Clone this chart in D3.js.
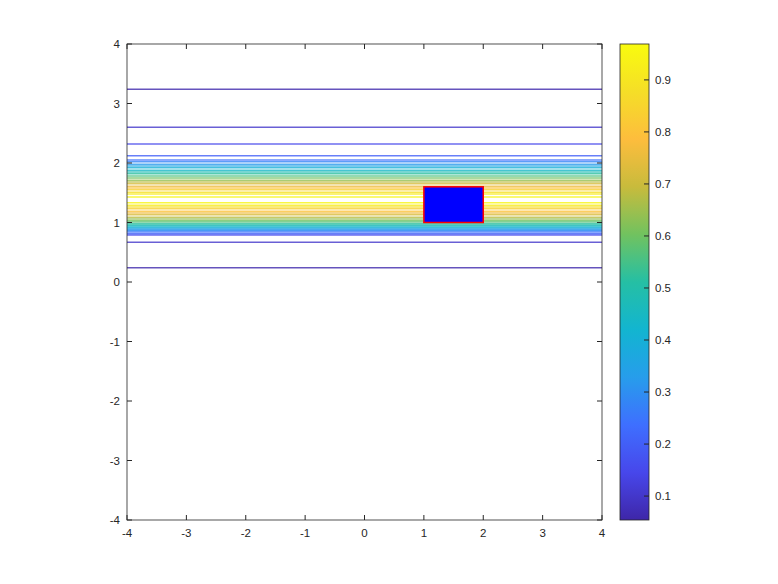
<!DOCTYPE html>
<html><head><meta charset="utf-8">
<script src="https://cdn.jsdelivr.net/npm/d3@7"></script>
<style>body{margin:0;background:#fff}svg{display:block}text{font-family:"Liberation Sans",Arial,sans-serif;font-size:11.5px;fill:#262626}</style>
</head><body>
<script>
// ---- data ----
const xTicks = [-4,-3,-2,-1,0,1,2,3,4];
const yTicks = [-4,-3,-2,-1,0,1,2,3,4];
const cbTicks = [0.1,0.2,0.3,0.4,0.5,0.6,0.7,0.8,0.9];
const colorRange = [0.054, 0.969];
const upperLevels = [0.06,0.1,0.15,0.2,0.24,0.28,0.32,0.36,0.40,0.44,0.48,0.52,0.56,0.60,0.64,0.68,0.72,0.76,0.80,0.84,0.88,0.92,0.95];
const upperY      = [3.24,2.60,2.32,2.12,2.05,2.02,1.98,1.95,1.92,1.88,1.85,1.82,1.78,1.75,1.71,1.68,1.65,1.61,1.58,1.55,1.51,1.48,1.43];
const lowerLevels = [0.06,0.1,0.15,0.2,0.24,0.28,0.32,0.36,0.40,0.44,0.48,0.52,0.56,0.60,0.64,0.68,0.72,0.76,0.80,0.84,0.88,0.92,0.95];
const lowerY      = [0.24,0.67,0.79,0.81,0.84,0.86,0.88,0.90,0.92,0.94,0.96,0.98,1.01,1.03,1.06,1.09,1.13,1.16,1.19,1.23,1.26,1.29,1.33];
const rectX = [1, 2];
const rectY = [1, 1.6];
// parula colormap stops (0, 0.1, ..., 1)
const parula = ["#3e26a8","#4747eb","#3e6fff","#279deb","#12b5d0","#25bfa4","#71c25f","#c8bb3c","#fdbd3d","#f5de27","#f9fb0e"];

// ---- drawing ----
const W = 778, H = 584;
const m = {l:127, r:602, t:44, b:520};
const svg = d3.select("body").append("svg").attr("width", W).attr("height", H);
const x = d3.scaleLinear().domain([-4,4]).range([m.l, m.r]);
const y = d3.scaleLinear().domain([-4,4]).range([m.b, m.t]);
const interp = d3.piecewise(d3.interpolateRgb, parula);
const cnorm = d3.scaleLinear().domain(colorRange).range([0,1]).clamp(true);
const color = v => interp(cnorm(v));

const lines = [];
upperLevels.forEach((lv,i)=>lines.push({lv, yv: upperY[i]}));
lowerLevels.forEach((lv,i)=>lines.push({lv, yv: lowerY[i]}));
lines.sort((a,b)=>a.lv-b.lv);

const lineGen = d3.line().x(d=>x(d[0])).y(d=>y(d[1]));
const g = svg.append("g");
g.selectAll("path.c").data(lines).join("path")
  .attr("class","c")
  .attr("d", d => lineGen([[-4,d.yv],[4,d.yv]]))
  .attr("stroke", d => color(d.lv))
  .attr("stroke-opacity", 0.8)
  .attr("stroke-width", 1.5)
  .attr("fill","none");

// rectangle
g.append("rect")
  .attr("x", x(rectX[0])).attr("y", y(rectY[1]))
  .attr("width", x(rectX[1]) - x(rectX[0]))
  .attr("height", y(rectY[0]) - y(rectY[1]))
  .attr("fill", "#0000ff").attr("stroke", "#ff0000").attr("stroke-width", 1.5);

// axes box
const axCol = "#262626";
svg.append("rect").attr("x", m.l).attr("y", m.t).attr("width", m.r-m.l).attr("height", m.b-m.t)
  .attr("fill","none").attr("stroke", axCol).attr("stroke-width", 0.8);

const tk = 5;
const ax = svg.append("g");
xTicks.forEach(t=>{
  ax.append("line").attr("x1",x(t)).attr("x2",x(t)).attr("y1",m.b).attr("y2",m.b-tk).attr("stroke",axCol);
  ax.append("line").attr("x1",x(t)).attr("x2",x(t)).attr("y1",m.t).attr("y2",m.t+tk).attr("stroke",axCol);
  ax.append("text").attr("x",x(t)).attr("y",m.b+17).attr("text-anchor","middle").text(t);
});
yTicks.forEach(t=>{
  ax.append("line").attr("y1",y(t)).attr("y2",y(t)).attr("x1",m.l).attr("x2",m.l+tk).attr("stroke",axCol);
  ax.append("line").attr("y1",y(t)).attr("y2",y(t)).attr("x1",m.r).attr("x2",m.r-tk).attr("stroke",axCol);
  ax.append("text").attr("x",m.l-7).attr("y",y(t)+4).attr("text-anchor","end").text(t);
});

// colorbar
const cb = {l:620, r:649, t:44, b:520};
const cy = d3.scaleLinear().domain(colorRange).range([cb.b, cb.t]);
const defs = svg.append("defs");
const grad = defs.append("linearGradient").attr("id","cbg").attr("x1","0").attr("x2","0").attr("y1","1").attr("y2","0");
d3.range(0, 1.0001, 0.05).forEach(s=>grad.append("stop").attr("offset", s).attr("stop-color", interp(s)));
svg.append("rect").attr("x",cb.l).attr("y",cb.t).attr("width",cb.r-cb.l).attr("height",cb.b-cb.t)
  .attr("fill","url(#cbg)").attr("stroke",axCol).attr("stroke-width",0.8);
cbTicks.forEach(t=>{
  svg.append("line").attr("x1",cb.r).attr("x2",cb.r-tk).attr("y1",cy(t)).attr("y2",cy(t)).attr("stroke",axCol);
  svg.append("text").attr("x",cb.r+6).attr("y",cy(t)+4).text(d3.format(".1f")(t));
});
</script>
</body></html>
